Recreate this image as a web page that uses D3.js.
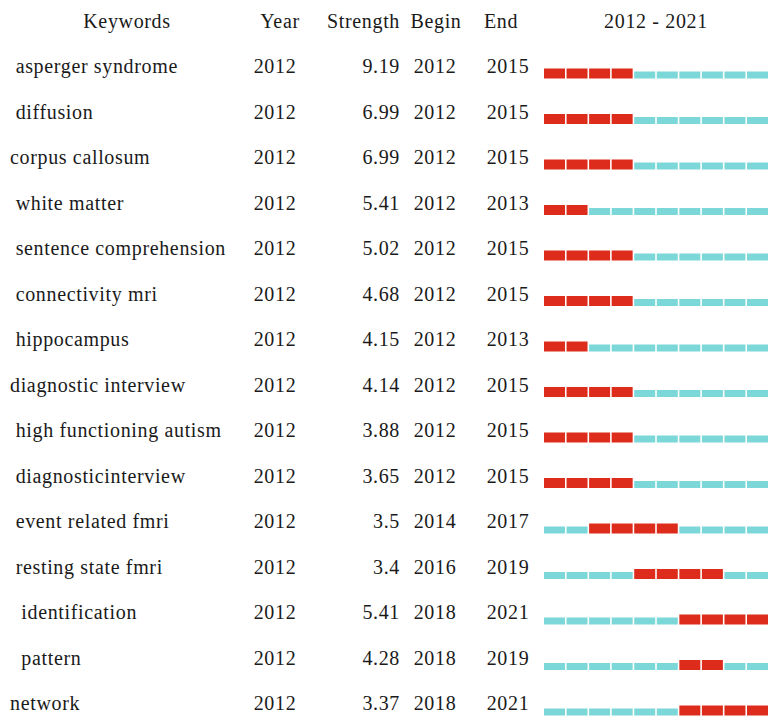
<!DOCTYPE html>
<html>
<head>
<meta charset="utf-8">
<script src="https://cdn.jsdelivr.net/npm/d3@7/dist/d3.min.js"></script>
<style>
  html, body { margin: 0; padding: 0; background: #fff; }
  svg text { font-family: "Liberation Serif", "Times New Roman", serif; fill: #1a1a1a; white-space: pre; letter-spacing: 0.65px; }
</style>
</head>
<body>
<div id="chart"></div>
<script>
// ---- data ----
const keywords = [
  " asperger syndrome", " diffusion", "corpus callosum", " white matter",
  " sentence comprehension", " connectivity mri", " hippocampus",
  "diagnostic interview", " high functioning autism", " diagnosticinterview",
  " event related fmri", " resting state fmri", "  identification", "  pattern", "network"
];
const years = [2012, 2012, 2012, 2012, 2012, 2012, 2012, 2012, 2012, 2012, 2012, 2012, 2012, 2012, 2012];
const strengths = ["9.19", "6.99", "6.99", "5.41", "5.02", "4.68", "4.15", "4.14", "3.88", "3.65", "3.5", "3.4", "5.41", "4.28", "3.37"];
const begins = [2012, 2012, 2012, 2012, 2012, 2012, 2012, 2012, 2012, 2012, 2014, 2016, 2018, 2018, 2018];
const ends   = [2015, 2015, 2015, 2013, 2015, 2015, 2013, 2015, 2015, 2015, 2017, 2019, 2021, 2019, 2021];
const headers = ["Keywords", "Year", "Strength", "Begin", "End", "2012 - 2021"];
const timeline = d3.range(2012, 2022);

// ---- layout ----
const W = 768, H = 716;
const svg = d3.select("#chart").append("svg").attr("width", W).attr("height", H);
const fs = 20;

const rows = keywords.map((k, i) => ({
  keyword: k, year: years[i], strength: strengths[i], begin: begins[i], end: ends[i]
}));

const y = d3.scalePoint().domain(d3.range(rows.length)).range([67, 704]);
const xYear = d3.scaleBand().domain(timeline).range([544, 768]).paddingInner(0.07);

const colX = { keyword: 10, year: 275, strength: 400, begin: 435, end: 508 };

// header
const head = svg.append("g").attr("font-size", fs);
head.append("text").attr("x", 127).attr("y", 28).attr("text-anchor", "middle").text(headers[0]);
head.append("text").attr("x", 280).attr("y", 28).attr("text-anchor", "middle").text(headers[1]);
head.append("text").attr("x", 400).attr("y", 28).attr("text-anchor", "end").text(headers[2]);
head.append("text").attr("x", 436).attr("y", 28).attr("text-anchor", "middle").text(headers[3]);
head.append("text").attr("x", 501).attr("y", 28).attr("text-anchor", "middle").text(headers[4]);
head.append("text").attr("x", 656).attr("y", 28).attr("text-anchor", "middle").text(headers[5]);

// rows
const g = svg.append("g").attr("font-size", fs);
const row = g.selectAll("g.row").data(rows).join("g").attr("class", "row")
  .attr("transform", (d, i) => `translate(0,${y(i)})`);

row.append("text").attr("x", colX.keyword).attr("y", 6).text(d => d.keyword);
row.append("text").attr("x", colX.year).attr("y", 6).attr("text-anchor", "middle").text(d => d.year);
row.append("text").attr("x", colX.strength).attr("y", 6).attr("text-anchor", "end").text(d => d.strength);
row.append("text").attr("x", colX.begin).attr("y", 6).attr("text-anchor", "middle").text(d => d.begin);
row.append("text").attr("x", colX.end).attr("y", 6).attr("text-anchor", "middle").text(d => d.end);

const red = "#dd2c1b", cyan = "#7cd8d8";
row.each(function(d) {
  const segs = timeline.map(t => ({ t, on: t >= d.begin && t <= d.end }));
  d3.select(this).selectAll("rect").data(segs).join("rect")
    .attr("x", s => xYear(s.t))
    .attr("width", xYear.bandwidth())
    .attr("y", s => s.on ? 11.5 - 10 : 11.5 - 7)
    .attr("height", s => s.on ? 10 : 7)
    .attr("fill", s => s.on ? red : cyan);
});
</script>
</body>
</html>
